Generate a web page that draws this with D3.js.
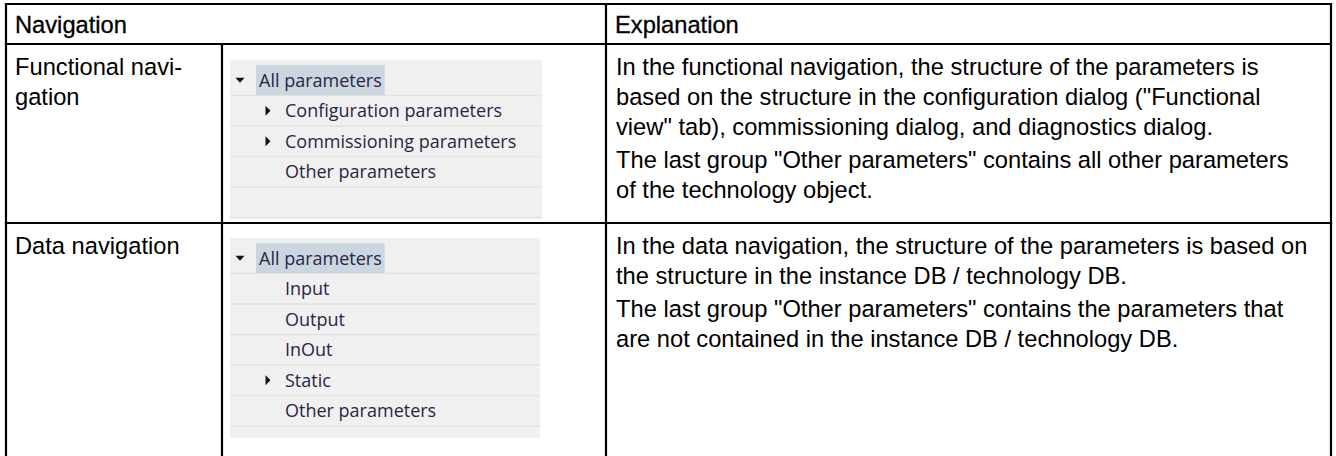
<!DOCTYPE html>
<html>
<head>
<meta charset="utf-8">
<script src="https://cdn.jsdelivr.net/npm/d3@7/dist/d3.min.js"></script>
<style>
  html, body { margin: 0; padding: 0; background: #ffffff; }
  svg { display: block; }
</style>
</head>
<body>
<svg id="chart" width="1336" height="456"></svg>
<script>
// ---------- data ----------
const headers = ["Navigation", "Explanation"];
const rowLabels = [["Functional navi-", "gation"], ["Data navigation"]];

const funcTreeLabels = ["All parameters", "Configuration parameters", "Commissioning parameters", "Other parameters", ""];
const funcTreeLevels = [0, 1, 1, 1, 1];
const funcTreeArrows = ["down", "right", "right", "none", "none"];

const dataTreeLabels = ["All parameters", "Input", "Output", "InOut", "Static", "Other parameters"];
const dataTreeLevels = [0, 1, 1, 1, 1, 1];
const dataTreeArrows = ["down", "none", "none", "none", "right", "none"];

const funcExplanation = [
  ["In the functional navigation, the structure of the parameters is",
   "based on the structure in the configuration dialog (\"Functional",
   "view\" tab), commissioning dialog, and diagnostics dialog."],
  ["The last group \"Other parameters\" contains all other parameters",
   "of the technology object."]
];
const dataExplanation = [
  ["In the data navigation, the structure of the parameters is based on",
   "the structure in the instance DB / technology DB."],
  ["The last group \"Other parameters\" contains the parameters that",
   "are not contained in the instance DB / technology DB."]
];

// ---------- layout ----------
const svg = d3.select("#chart");
const colEdges = [6, 222, 606, 1331];
const rowEdges = [4, 44, 223, 470];
const colX = i => colEdges[i];
const rowY = i => rowEdges[i];

const tableFont = "'Liberation Sans', Arial, sans-serif";
const tableSize = 23.7;
const lineH = 30;
const paraGap = 3;
const treeFont = "'Open Sans', 'Noto Sans', sans-serif";
const treeSize = 18;

// header text
headers.forEach((h, i) => {
  svg.append("text").attr("x", colX(i === 0 ? 0 : 2) + 9).attr("y", rowY(0) + 29)
    .attr("font-family", tableFont).attr("font-size", tableSize).attr("fill", "#000")
    .attr("stroke", "#000").attr("stroke-width", 0.3)
    .text(h);
});

// row labels
rowLabels.forEach((lines, r) => {
  const t = svg.append("text").attr("font-family", tableFont).attr("font-size", tableSize).attr("fill", "#000");
  lines.forEach((ln, i) => {
    t.append("tspan").attr("x", colX(0) + 9).attr("y", rowY(r + 1) + 31 + i * lineH).text(ln);
  });
});

// explanations
[funcExplanation, dataExplanation].forEach((paras, r) => {
  let yy = rowY(r + 1) + 31;
  const t = svg.append("text").attr("font-family", tableFont).attr("font-size", tableSize).attr("fill", "#000");
  paras.forEach(lines => {
    lines.forEach(ln => {
      t.append("tspan").attr("x", colX(2) + 10).attr("y", yy).text(ln);
      yy += lineH;
    });
    yy += paraGap;
  });
});

// tree panels
function drawTree(labels, levels, arrows, top, bottom, right) {
  const g = svg.append("g");
  const px0 = 230, px1 = right;
  const rowH = 30.5;
  const yb = d3.scaleLinear().domain([0, 1]).range([top + 5, top + 5 + rowH]);
  g.append("rect").attr("x", px0).attr("y", top).attr("width", px1 - px0).attr("height", bottom - top)
    .attr("fill", "#f0f0f0");
  labels.forEach((lab, i) => {
    const y0 = yb(i), y1 = yb(i + 1);
    if (y1 < bottom) {
      g.append("line").attr("x1", px0).attr("x2", px1).attr("y1", y1).attr("y2", y1)
        .attr("stroke", "#e3e3e3").attr("stroke-width", 1.5);
    }
    const tx = levels[i] === 0 ? 259 : 285;
    if (i === 0) {
      const tmp = g.append("text").attr("font-family", treeFont).attr("font-size", treeSize).text(lab);
      const w = tmp.node().getComputedTextLength();
      tmp.remove();
      g.append("rect").attr("x", tx - 3).attr("y", y0).attr("width", w + 6).attr("height", rowH - 0.5)
        .attr("fill", "#cbd6e1");
    }
    const cy = (y0 + y1) / 2;
    if (arrows[i] === "down") {
      const ax = tx - 19;
      g.append("path").attr("d", `M${ax - 4.5},${cy - 2.5}L${ax + 4.5},${cy - 2.5}L${ax},${cy + 2.5}Z`).attr("fill", "#111");
    } else if (arrows[i] === "right") {
      const ax = tx - 17;
      g.append("path").attr("d", `M${ax - 2.5},${cy - 5}L${ax + 2.5},${cy}L${ax - 2.5},${cy + 5}Z`).attr("fill", "#111");
    }
    if (lab) {
      g.append("text").attr("x", tx).attr("y", cy + 6.5)
        .attr("font-family", treeFont).attr("font-size", treeSize).attr("fill", "#2b2545")
        .text(lab);
    }
  });
}
drawTree(funcTreeLabels, funcTreeLevels, funcTreeArrows, rowY(1) + 16, rowY(2) - 4, 542);
drawTree(dataTreeLabels, dataTreeLevels, dataTreeArrows, rowY(2) + 15, rowY(2) + 215, 540);

// grid lines
const lw = 2.2;
const lines = [
  [colX(0), rowY(0), colX(3), rowY(0)],
  [colX(0), rowY(1), colX(3), rowY(1)],
  [colX(0), rowY(2), colX(3), rowY(2)],
  [colX(0), rowY(0), colX(0), rowY(3)],
  [colX(3), rowY(0), colX(3), rowY(3)],
  [colX(2), rowY(0), colX(2), rowY(3)],
  [colX(1), rowY(1), colX(1), rowY(3)]
];
svg.append("g").selectAll("line").data(lines).join("line")
  .attr("x1", d => d[0]).attr("y1", d => d[1]).attr("x2", d => d[2]).attr("y2", d => d[3])
  .attr("stroke", "#000").attr("stroke-width", lw).attr("stroke-linecap", "square");
</script>
</body>
</html>
